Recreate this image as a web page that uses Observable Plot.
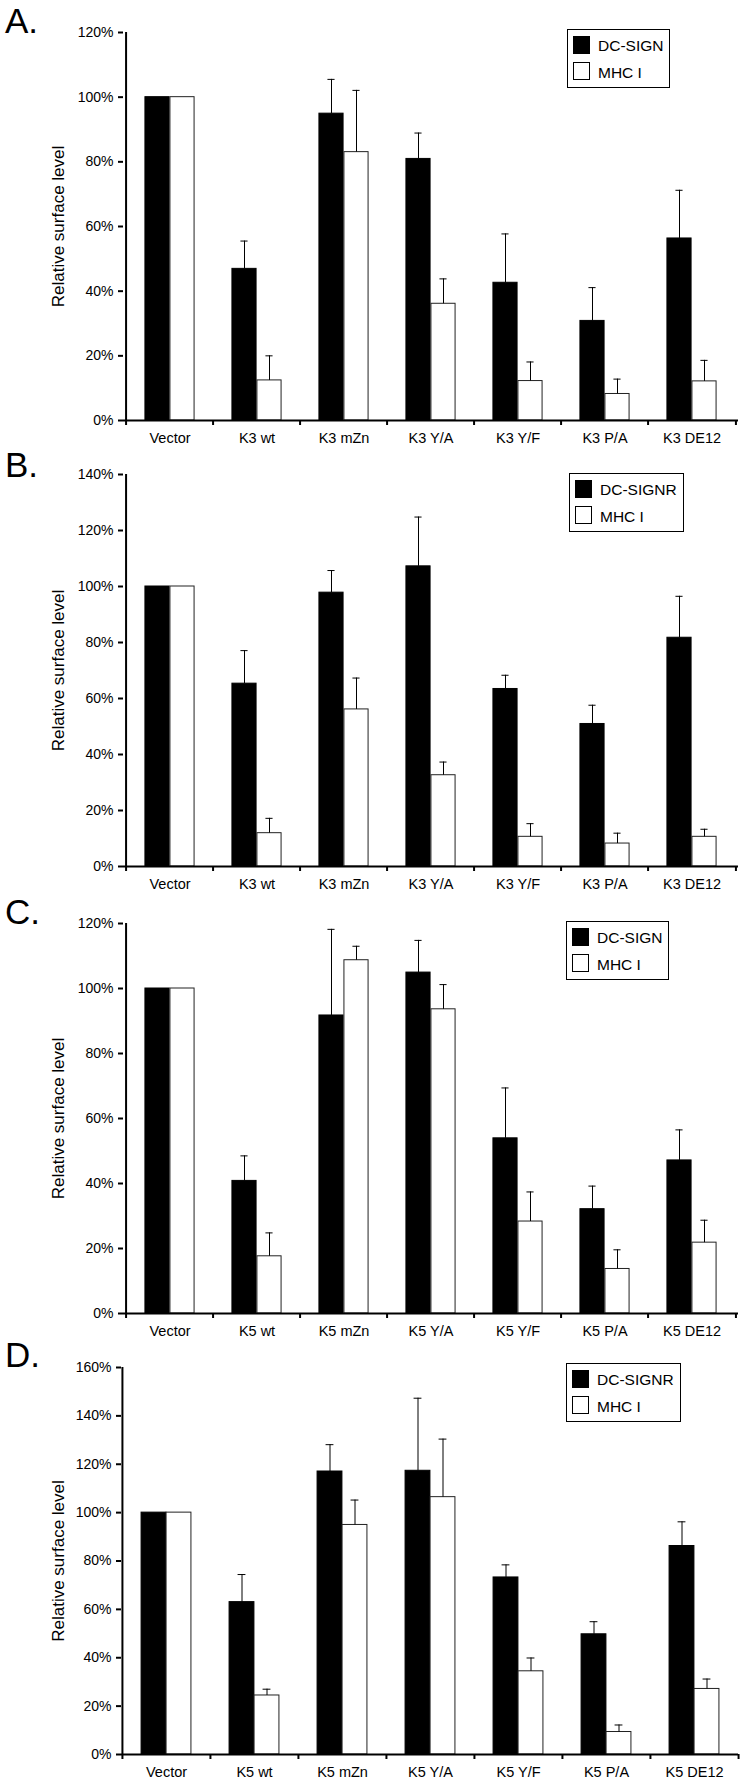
<!DOCTYPE html>
<html><head><meta charset="utf-8">
<script src="https://cdn.jsdelivr.net/npm/d3@7"></script>
<script src="https://cdn.jsdelivr.net/npm/@observablehq/plot@0.6"></script>
<style>
body{margin:0;background:#fff;}
#page{position:relative;width:745px;height:1787px;overflow:hidden;font-family:"Liberation Sans",Arial,sans-serif;color:#000;}
.panel{position:absolute;left:0;}
.panel svg{overflow:visible;}
.letter{position:absolute;font-size:35px;line-height:35px;}
.legend{position:absolute;border:1px solid #000;background:#fff;box-sizing:border-box;height:59px;}
.sw{position:absolute;left:5px;width:17px;height:18px;box-sizing:border-box;border:1px solid #000;}
.lt{position:absolute;left:30px;font-size:15.5px;line-height:15px;white-space:nowrap;}
</style></head><body><div id="page"></div>
<script>
// ---- data ----
const catsK3 = ["Vector", "K3 wt", "K3 mZn", "K3 Y/A", "K3 Y/F", "K3 P/A", "K3 DE12"];
const catsK5 = ["Vector", "K5 wt", "K5 mZn", "K5 Y/A", "K5 Y/F", "K5 P/A", "K5 DE12"];
const seriesA = ["DC-SIGN", "MHC I"];
const seriesB = ["DC-SIGNR", "MHC I"];

const dcA  = [100, 46.9, 94.9, 80.9, 42.6, 30.8, 56.3];
const dcErrA = [0, 8.6, 10.6, 8.0, 15.1, 10.3, 14.9];
const mhcA = [100, 12.4, 83.0, 36.1, 12.2, 8.2, 12.1];
const mhcErrA = [0, 7.6, 19.1, 7.7, 5.9, 4.6, 6.5];

const dcB  = [100, 65.3, 97.8, 107.2, 63.4, 50.9, 81.7];
const dcErrB = [0, 11.8, 7.9, 17.6, 4.9, 6.7, 14.8];
const mhcB = [100, 11.9, 56.1, 32.6, 10.6, 8.2, 10.6];
const mhcErrB = [0, 5.3, 11.2, 4.7, 4.7, 3.7, 2.7];

const dcC  = [100, 40.8, 91.7, 104.9, 53.9, 32.1, 47.1];
const dcErrC = [0, 7.7, 26.5, 9.9, 15.5, 7.1, 9.4];
const mhcC = [100, 17.6, 108.7, 93.6, 28.3, 13.7, 21.8];
const mhcErrC = [0, 7.2, 4.3, 7.6, 9.1, 5.9, 6.9];

const dcD  = [100, 63.0, 117.0, 117.3, 73.2, 49.7, 86.2];
const dcErrD = [0, 11.4, 11.1, 30.0, 5.2, 5.2, 10.0];
const mhcD = [100, 24.4, 94.9, 106.4, 34.4, 9.3, 27.1];
const mhcErrD = [0, 2.6, 10.3, 24.0, 5.5, 2.9, 4.1];

const yMaxA = 120, yMaxB = 140, yMaxC = 120, yMaxD = 160;
const letters = ["A.", "B.", "C.", "D."];
const yTitle = "Relative surface level";

// ---- layout ----
const W = 745;
const panels = [
  {letter: letters[0], cats: catsK3, series: seriesA, dc: dcA, dcErr: dcErrA, mhc: mhcA, mhcErr: mhcErrA, ymax: yMaxA,
   top: 32, bottom: 420, ml: 123, letterTop: 3.4, legend: {left: 567, top: 29}},
  {letter: letters[1], cats: catsK3, series: seriesB, dc: dcB, dcErr: dcErrB, mhc: mhcB, mhcErr: mhcErrB, ymax: yMaxB,
   top: 474, bottom: 866, ml: 123, letterTop: 447.4, legend: {left: 569, top: 473}},
  {letter: letters[2], cats: catsK5, series: seriesA, dc: dcC, dcErr: dcErrC, mhc: mhcC, mhcErr: mhcErrC, ymax: yMaxC,
   top: 923, bottom: 1313, ml: 123, letterTop: 894.4, legend: {left: 566, top: 921}},
  {letter: letters[3], cats: catsK5, series: seriesB, dc: dcD, dcErr: dcErrD, mhc: mhcD, mhcErr: mhcErrD, ymax: yMaxD,
   top: 1367, bottom: 1754, ml: 121, letterTop: 1337.4, legend: {left: 566, top: 1363}}
];

const page = document.getElementById("page");

for (const p of panels) {
  const mt = 30, mb = 34, mr = 7;
  const ph = p.bottom - p.top;
  const bw = (W - p.ml - mr) / 7;
  const barW = 25;
  const rows = p.cats.map((c, i) => ({cat: c, dc: p.dc[i], dcHi: p.dc[i] + p.dcErr[i], dcErr: p.dcErr[i],
                                      mhc: p.mhc[i], mhcHi: p.mhc[i] + p.mhcErr[i], mhcErr: p.mhcErr[i]}));
  const errDc = rows.filter(d => d.dcErr > 0);
  const errMhc = rows.filter(d => d.mhcErr > 0);
  const capHalf = 4;
  const ticks = d3.range(0, p.ymax + 1, 20);

  const chart = Plot.plot({
    width: W,
    height: mt + ph + mb,
    marginTop: mt, marginBottom: mb, marginLeft: p.ml, marginRight: mr,
    style: {fontFamily: "'Liberation Sans', Arial, sans-serif", fontSize: "14px", color: "#000", background: "#fff", overflow: "visible"},
    x: {type: "band", domain: p.cats, padding: 0, axis: null},
    y: {domain: [0, p.ymax], axis: null},
    marks: [
      Plot.axisY({ticks, tickSize: 5, tickPadding: 5, tickFormat: d => d + "%", strokeWidth: 2, label: null, fontSize: 14}),
      Plot.axisX({tickSize: 0, tickPadding: 12, label: null, fontSize: 14.5}),
      Plot.axisX({tickSize: 5, tickFormat: () => "", dx: -bw / 2, strokeWidth: 2, label: null}),
      Plot.axisX([p.cats[p.cats.length - 1]], {tickSize: 5, tickFormat: () => "", dx: bw / 2, strokeWidth: 2, label: null}),
      Plot.barY(rows, {x: "cat", y: "dc", fill: "#000", stroke: "#000", strokeWidth: 1,
                       insetLeft: bw / 2 - barW, insetRight: bw / 2}),
      Plot.barY(rows, {x: "cat", y: "mhc", fill: "#fff", stroke: "#222", strokeWidth: 1,
                       insetLeft: bw / 2, insetRight: bw / 2 - barW}),
      Plot.ruleX(errDc, {x: "cat", y1: "dc", y2: "dcHi", dx: -barW / 2, stroke: "#000", strokeWidth: 1}),
      Plot.tickY(errDc, {x: "cat", y: "dcHi", stroke: "#000", strokeWidth: 1,
                         insetLeft: bw / 2 - barW / 2 - capHalf, insetRight: bw / 2 + barW / 2 - capHalf}),
      Plot.ruleX(errMhc, {x: "cat", y1: "mhc", y2: "mhcHi", dx: barW / 2, stroke: "#000", strokeWidth: 1}),
      Plot.tickY(errMhc, {x: "cat", y: "mhcHi", stroke: "#000", strokeWidth: 1,
                          insetLeft: bw / 2 + barW / 2 - capHalf, insetRight: bw / 2 - barW / 2 - capHalf}),
      Plot.ruleY([0], {stroke: "#000", strokeWidth: 2}),
      Plot.ruleX([p.cats[0]], {dx: -bw / 2, y1: 0, y2: p.ymax, stroke: "#000", strokeWidth: 2}),
      Plot.text([yTitle], {text: d => d, frameAnchor: "left", dx: -(p.ml - 58), rotate: -90,
                           textAnchor: "middle", lineAnchor: "middle", fontSize: 17, fill: "#000"})
    ]
  });

  const holder = document.createElement("div");
  holder.className = "panel";
  holder.style.top = (p.top - mt) + "px";
  holder.appendChild(chart);
  page.appendChild(holder);

  const letter = document.createElement("div");
  letter.className = "letter";
  letter.style.left = "5px";
  letter.style.top = p.letterTop + "px";
  letter.textContent = p.letter;
  page.appendChild(letter);

  const lg = document.createElement("div");
  lg.className = "legend";
  lg.style.left = p.legend.left + "px";
  lg.style.top = p.legend.top + "px";
  const rowsLg = [{top: 6, fill: "#000", label: p.series[0], tTop: 8.3}, {top: 32, fill: "#fff", label: p.series[1], tTop: 35.3}];
  for (const r of rowsLg) {
    const sw = document.createElement("div");
    sw.className = "sw";
    sw.style.top = r.top + "px";
    sw.style.background = r.fill;
    lg.appendChild(sw);
    const t = document.createElement("div");
    t.className = "lt";
    t.style.top = r.tTop + "px";
    t.textContent = r.label;
    lg.appendChild(t);
  }
  page.appendChild(lg);
  const widths = Array.from(lg.querySelectorAll(".lt")).map(e => e.getBoundingClientRect().width);
  lg.style.width = Math.round(30 + Math.max(...widths) + 8) + "px";
}
</script></body></html>
